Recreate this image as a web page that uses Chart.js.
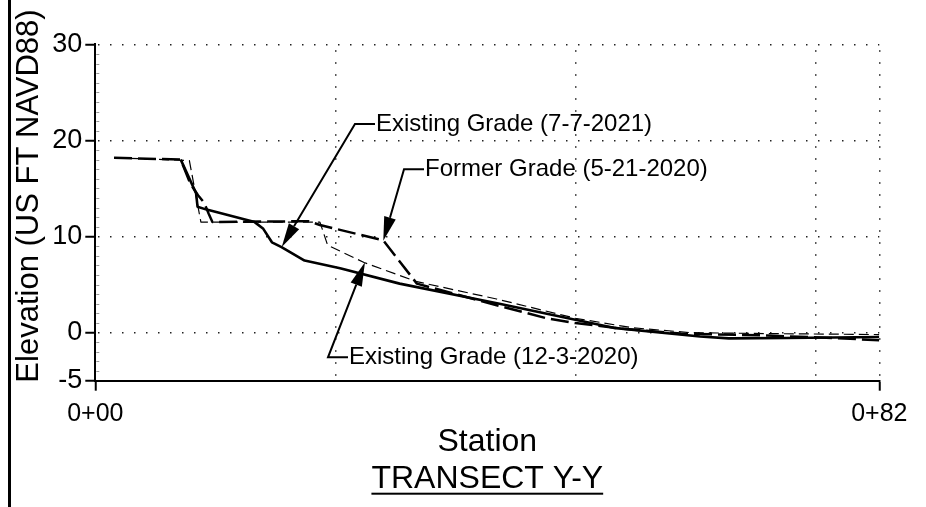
<!DOCTYPE html>
<html>
<head>
<meta charset="utf-8">
<script src="https://cdn.jsdelivr.net/npm/chart.js@4.4.1/dist/chart.umd.min.js"></script>
<style>
  html, body { margin: 0; padding: 0; background: #fff; }
  #wrap { width: 926px; height: 507px; position: relative; }
</style>
</head>
<body>
<div id="wrap"><canvas id="c" width="926" height="507"></canvas></div>
<script>
// ---------------- DATA ----------------
const STATION_MAX = 81.67;               // end station of the transect (labelled 0+82)
const xTickValues = [0, 25, 50, 75, STATION_MAX];
const xTickLabels = ['0+00', '', '', '', '0+82'];
const yTickValues = [-5, 0, 10, 20, 30];
const yTickLabels = ['-5', '0', '10', '20', '30'];
const yMinorStep = 1;

// Existing Grade (7-7-2021) - solid
const existing2021Station = [8.9, 10.5, 10.65, 11.6, 16.6, 17.5, 18.4, 19.4, 21.8, 25.5, 31.7, 42.1, 50.0, 54.0, 63.0, 66.0, 72.0, 81.67];
const existing2021Elev    = [18.0, 14.5, 13.1, 12.8, 11.5, 10.8, 9.4, 8.9, 7.5, 6.7, 5.1, 3.0, 1.35, 0.5, -0.4, -0.6, -0.55, -0.45];

// Former Grade (5-21-2020) - long dashes
const former2020Station = [1.95, 8.9, 9.9, 10.7, 11.35, 11.8, 12.2, 22.2, 23.4, 30.0, 33.5, 42.0, 47.0, 50.0, 55.0, 61.0, 70.0, 78.0, 81.67];
const former2020Elev    = [18.2, 18.0, 15.5, 14.3, 13.5, 12.4, 11.5, 11.6, 11.2, 9.6, 5.1, 2.8, 1.5, 1.0, 0.4, -0.1, -0.3, -0.6, -0.8];

// Existing Grade (12-3-2020) - thin dashes
const existing2020Station = [1.95, 9.8, 11.0, 23.4, 24.2, 28.0, 33.5, 41.8, 50.0, 56.0, 62.0, 70.0, 81.67];
const existing2020Elev    = [18.2, 17.9, 11.5, 11.5, 9.1, 7.3, 5.3, 3.5, 1.5, 0.5, 0.0, -0.1, -0.2];

// Callout labels: arrow tip and elbow in (station, elevation)
const calloutText   = ['Existing Grade (7-7-2021)', 'Former Grade (5-21-2020)', 'Existing Grade (12-3-2020)'];
const calloutTip    = [[19.42, 8.92], [30.0, 9.56], [28.09, 7.32]];
const calloutElbow  = [[27.05, 21.7], [32.16, 17.0], [24.24, -2.57]];

const yAxisTitle = 'Elevation (US FT NAVD88)';
const xAxisTitle = 'Station';
const chartTitle = 'TRANSECT Y-Y';

// ---------------- CHART ----------------
const FONT = '"Liberation Sans", Arial, Helvetica, sans-serif';
const toPts = (xs, ys) => xs.map((x, i) => ({ x, y: ys[i] }));

const decorPlugin = {
  id: 'decor',
  afterDraw(chart) {
    const { ctx, chartArea, scales } = chart;
    const xs = scales.x, ys = scales.y;
    ctx.save();
    // left border line
    ctx.fillStyle = '#000';
    ctx.fillRect(8, 0, 3, chart.height);

    // minor ticks on the elevation axis (inside)
    ctx.strokeStyle = '#999';
    ctx.lineWidth = 1;
    ctx.beginPath();
    for (let v = ys.min; v <= ys.max; v += yMinorStep) {
      if (yTickValues.includes(v)) continue;
      const py = Math.round(ys.getPixelForValue(v)) + 0.5;
      ctx.moveTo(chartArea.left + 1, py);
      ctx.lineTo(chartArea.left + 4, py);
    }
    ctx.stroke();

    // y-axis title
    ctx.save();
    ctx.translate(29, 196);
    ctx.rotate(-Math.PI / 2);
    ctx.font = '31px ' + FONT;
    ctx.textAlign = 'center';
    ctx.textBaseline = 'middle';
    ctx.fillText(yAxisTitle, 0, 0);
    ctx.restore();

    const cx = (chartArea.left + chartArea.right) / 2;
    // x-axis title
    ctx.font = '32px ' + FONT;
    ctx.textAlign = 'center';
    ctx.textBaseline = 'middle';
    ctx.fillText(xAxisTitle, cx, chartArea.bottom + 61);
    // chart title, underlined
    ctx.fillText(chartTitle, cx, chartArea.bottom + 98);
    const w = ctx.measureText(chartTitle).width;
    ctx.fillRect(cx - w / 2, chartArea.bottom + 112, w, 2);

    // callouts
    ctx.textAlign = 'left';
    ctx.strokeStyle = '#000';
    ctx.lineWidth = 2;
    ctx.font = '24px ' + FONT;
    for (let i = 0; i < calloutText.length; i++) {
      const tx = xs.getPixelForValue(calloutTip[i][0]);
      const ty = ys.getPixelForValue(calloutTip[i][1]);
      const ex = xs.getPixelForValue(calloutElbow[i][0]);
      const ey = ys.getPixelForValue(calloutElbow[i][1]);
      const ang = Math.atan2(ty - ey, tx - ex);
      const L = 24, H = 6;
      const bx = tx - L * Math.cos(ang), by = ty - L * Math.sin(ang);
      ctx.beginPath();
      ctx.moveTo(ex + 20, ey);
      ctx.lineTo(ex, ey);
      ctx.lineTo(bx, by);
      ctx.stroke();
      ctx.beginPath();
      ctx.moveTo(tx, ty);
      ctx.lineTo(bx + H * Math.sin(ang), by - H * Math.cos(ang));
      ctx.lineTo(bx - H * Math.sin(ang), by + H * Math.cos(ang));
      ctx.closePath();
      ctx.fill();
      ctx.fillText(calloutText[i], ex + 21, ey);
    }
    ctx.restore();
  }
};

new Chart(document.getElementById('c'), {
  type: 'line',
  data: {
    datasets: [
      { label: 'Existing Grade (12-3-2020)', data: toPts(existing2020Station, existing2020Elev),
        borderColor: '#000', borderWidth: 1.2, borderDash: [10, 5] },
      { label: 'Former Grade (5-21-2020)', data: toPts(former2020Station, former2020Elev),
        borderColor: '#000', borderWidth: 2.5, borderDash: [18, 6] },
      { label: 'Existing Grade (7-7-2021)', data: toPts(existing2021Station, existing2021Elev),
        borderColor: '#000', borderWidth: 2.6 }
    ]
  },
  options: {
    responsive: false,
    animation: false,
    devicePixelRatio: 1,
    layout: { padding: { left: 14, right: 46.7, top: 44.3, bottom: 0 } },
    elements: { point: { radius: 0 }, line: { tension: 0, borderJoinStyle: 'round' } },
    plugins: { legend: { display: false }, tooltip: { enabled: false } },
    scales: {
      x: {
        type: 'linear', min: 0, max: STATION_MAX,
        afterBuildTicks: s => { s.ticks = xTickValues.map(v => ({ value: v })); },
        afterFit: s => { s.height = 126.3; },
        ticks: {
          autoSkip: false, maxRotation: 0, padding: 8, color: '#000',
          font: { family: FONT, size: 25 },
          callback: (v, i) => xTickLabels[i]
        },
        border: { color: '#000', width: 2, dash: [1.5, 10.5], dashOffset: 6 },
        grid: {
          color: c => (c.tick && c.tick.value === 0) ? 'rgba(0,0,0,0)' : '#222',
          lineWidth: 1.5,
          tickLength: 10,
          tickWidth: 2,
          tickBorderDash: [],
          tickColor: c => (c.tick && (c.tick.value === 0 || c.tick.value === STATION_MAX)) ? '#000' : 'rgba(0,0,0,0)'
        }
      },
      y: {
        type: 'linear', min: -5, max: 30,
        afterBuildTicks: s => { s.ticks = yTickValues.map(v => ({ value: v })); },
        afterFit: s => { s.width = 81.3; },
        ticks: {
          padding: 3, color: '#000',
          font: { family: FONT, size: 27 },
          callback: (v, i) => yTickLabels[i]
        },
        border: { color: '#000', width: 2, dash: [1.5, 10.5], dashOffset: -2 },
        grid: {
          color: c => (c.tick && c.tick.value === -5) ? 'rgba(0,0,0,0)' : '#222',
          lineWidth: 1.5,
          tickLength: 10,
          tickWidth: 2,
          tickBorderDash: [],
          tickColor: '#000'
        }
      }
    }
  },
  plugins: [decorPlugin]
});
</script>
</body>
</html>
